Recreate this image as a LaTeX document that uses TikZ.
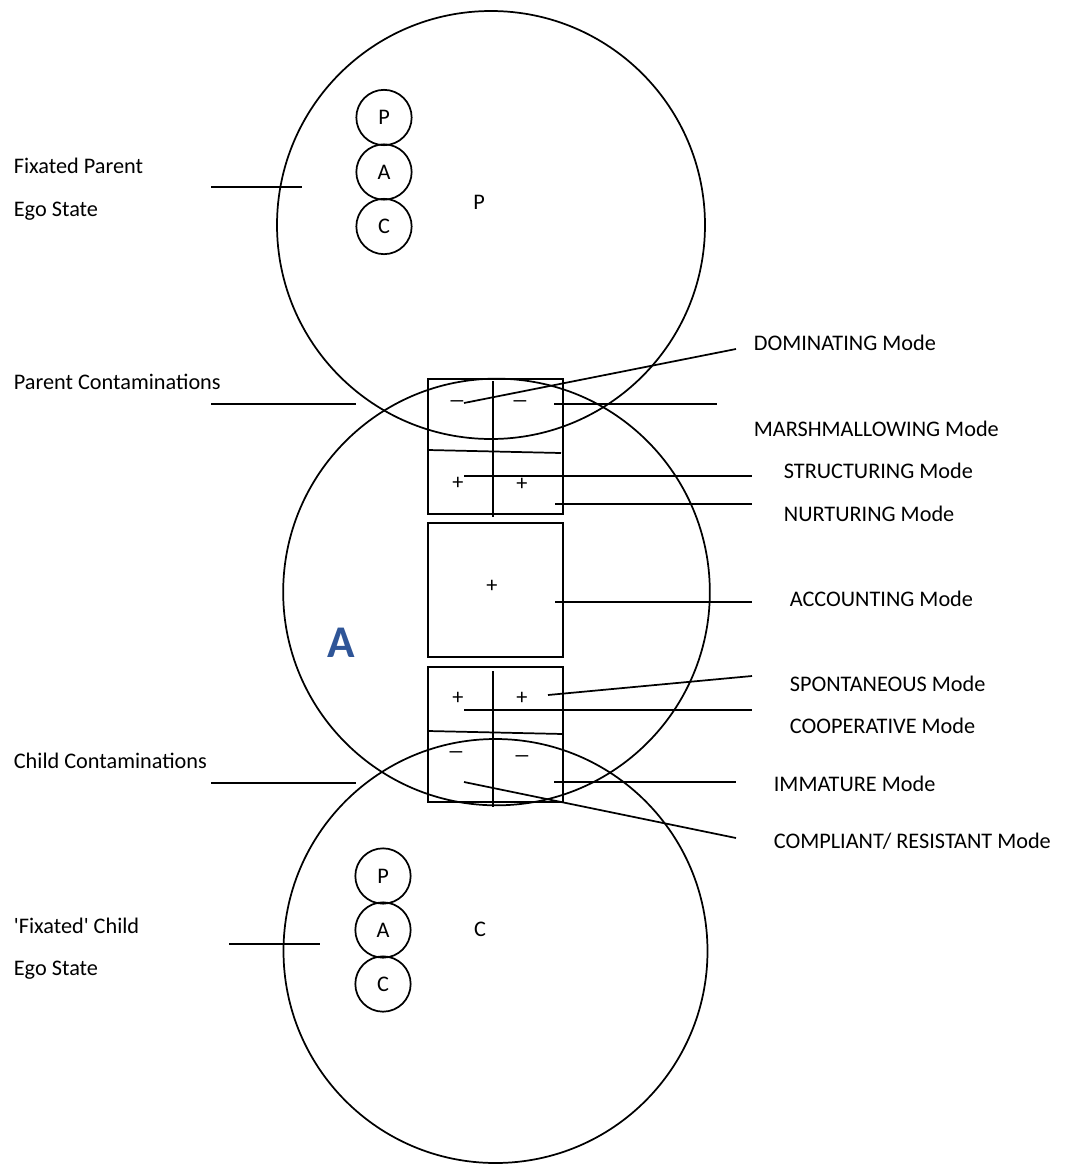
\documentclass[tikz,border=0pt]{standalone}
\usepackage{fontspec}
\setmainfont{Carlito}
\newfontfamily\plainfont{Carlito}
\definecolor{ablue}{RGB}{47,85,151}

\begin{document}
\begin{tikzpicture}[x=0.75pt,y=-0.75pt,line width=1.3pt,
  every node/.style={font=\fontsize{16.7}{20}\selectfont,inner sep=0pt},
  ego/.style={circle,draw,minimum size=41.5pt},
  box/.style={draw,minimum width=101.25pt,minimum height=101.25pt},
  txt/.style={anchor=base west}]
\useasboundingbox (0,0) rectangle (1066,1164);
% the three ego states
\node (parent) at (491,225) [circle,draw,minimum size=321pt] {};
\node (adult) at (496.5,592) [circle,draw,minimum size=320pt] {};
\node (child) at (495.5,951) [circle,draw,minimum size=318pt] {};
\node (plabel) at (479,202) {P};
\node (clabel) at (480,929) {C};
\node (alabel) at (341,643) [font=\fontsize{34}{40}\selectfont\bfseries,text=ablue] {A};
% fixated ego states
\node (fp) at (384,117.5) [ego] {P};
\node (fa) at (384,172) [ego] {A};
\node (fc) at (384,226.5) [ego] {C};
\node (cp) at (383,876) [ego] {P};
\node (ca) at (383,930) [ego] {A};
\node (cc) at (383,984) [ego] {C};
% mode boxes
\node (upper) at (495.5,446.5) [box] {};
\node (middle) at (495.5,590) [box,minimum height=100.5pt] {};
\node (lower) at (495.5,734.5) [box] {};
\draw (493,381) -- (493,517);
\draw (428,450) -- (561,453);
\draw (493,671) -- (493,807);
\draw (428,731) -- (563,734);
\node (um1) at (457,404) {\scalebox{1.6}[1]{--}};
\node (um2) at (520,404) {\scalebox{1.6}[1]{--}};
\node (up1) at (458,483) {+};
\node (up2) at (522,484) {+};
\node (mp) at (492,586) {+};
\node (lp1) at (458,698) {+};
\node (lp2) at (522,698) {+};
\node (lm1) at (456,755) {\scalebox{1.6}[1]{--}};
\node (lm2) at (522,759) {\scalebox{1.6}[1]{--}};
% labels on the left
\node (fixpar) at (13,173) [txt] {Fixated Parent};
\node (fixpar2) at (13,216) [txt] {Ego State};
\node (parcon) at (13,389) [txt] {Parent Contaminations};
\node (chicon) at (13,768) [txt] {Child Contaminations};
\node (fixchi) at (13,933) [txt] {\plainfont 'Fixated' Child};
\node (fixchi2) at (13,975) [txt] {Ego State};
\coordinate (fixpar-a) at (211,187); \coordinate (fixpar-b) at (302,187);
\coordinate (parcon-a) at (211,404); \coordinate (parcon-b) at (356,404);
\coordinate (chicon-a) at (211,783); \coordinate (chicon-b) at (356,783);
\coordinate (fixchi-a) at (229,944); \coordinate (fixchi-b) at (320,944);
\draw (fixpar-a) -- (fixpar-b);
\draw (parcon-a) -- (parcon-b);
\draw (chicon-a) -- (chicon-b);
\draw (fixchi-a) -- (fixchi-b);
% labels on the right
\node (dom) at (753,350) [txt] {DOMINATING Mode};
\node (mar) at (753,436) [txt] {MARSHMALLOWING Mode};
\node (str) at (783,478) [txt] {STRUCTURING Mode};
\node (nur) at (783,521) [txt] {NURTURING Mode};
\node (acc) at (789,606) [txt] {ACCOUNTING Mode};
\node (spo) at (789,691) [txt] {SPONTANEOUS Mode};
\node (coo) at (789,733) [txt] {COOPERATIVE Mode};
\node (imm) at (773,791) [txt] {IMMATURE Mode};
\node (com) at (773,848) [txt] {COMPLIANT/ RESISTANT Mode};
\coordinate (dom-a) at (464,403); \coordinate (dom-b) at (736,349);
\coordinate (mar-a) at (554,404); \coordinate (mar-b) at (717,404);
\coordinate (str-a) at (464,476); \coordinate (str-b) at (752,476);
\coordinate (nur-a) at (555,504); \coordinate (nur-b) at (752,504);
\coordinate (acc-a) at (555,602); \coordinate (acc-b) at (752,602);
\coordinate (spo-a) at (548,695); \coordinate (spo-b) at (752,676);
\coordinate (coo-a) at (464,710); \coordinate (coo-b) at (752,710);
\coordinate (imm-a) at (554,782); \coordinate (imm-b) at (736,782);
\coordinate (com-a) at (464,782); \coordinate (com-b) at (736,838);
\draw (dom-a) -- (dom-b);
\draw (mar-a) -- (mar-b);
\draw (str-a) -- (str-b);
\draw (nur-a) -- (nur-b);
\draw (acc-a) -- (acc-b);
\draw (spo-a) -- (spo-b);
\draw (coo-a) -- (coo-b);
\draw (imm-a) -- (imm-b);
\draw (com-a) -- (com-b);
\end{tikzpicture}
\end{document}
